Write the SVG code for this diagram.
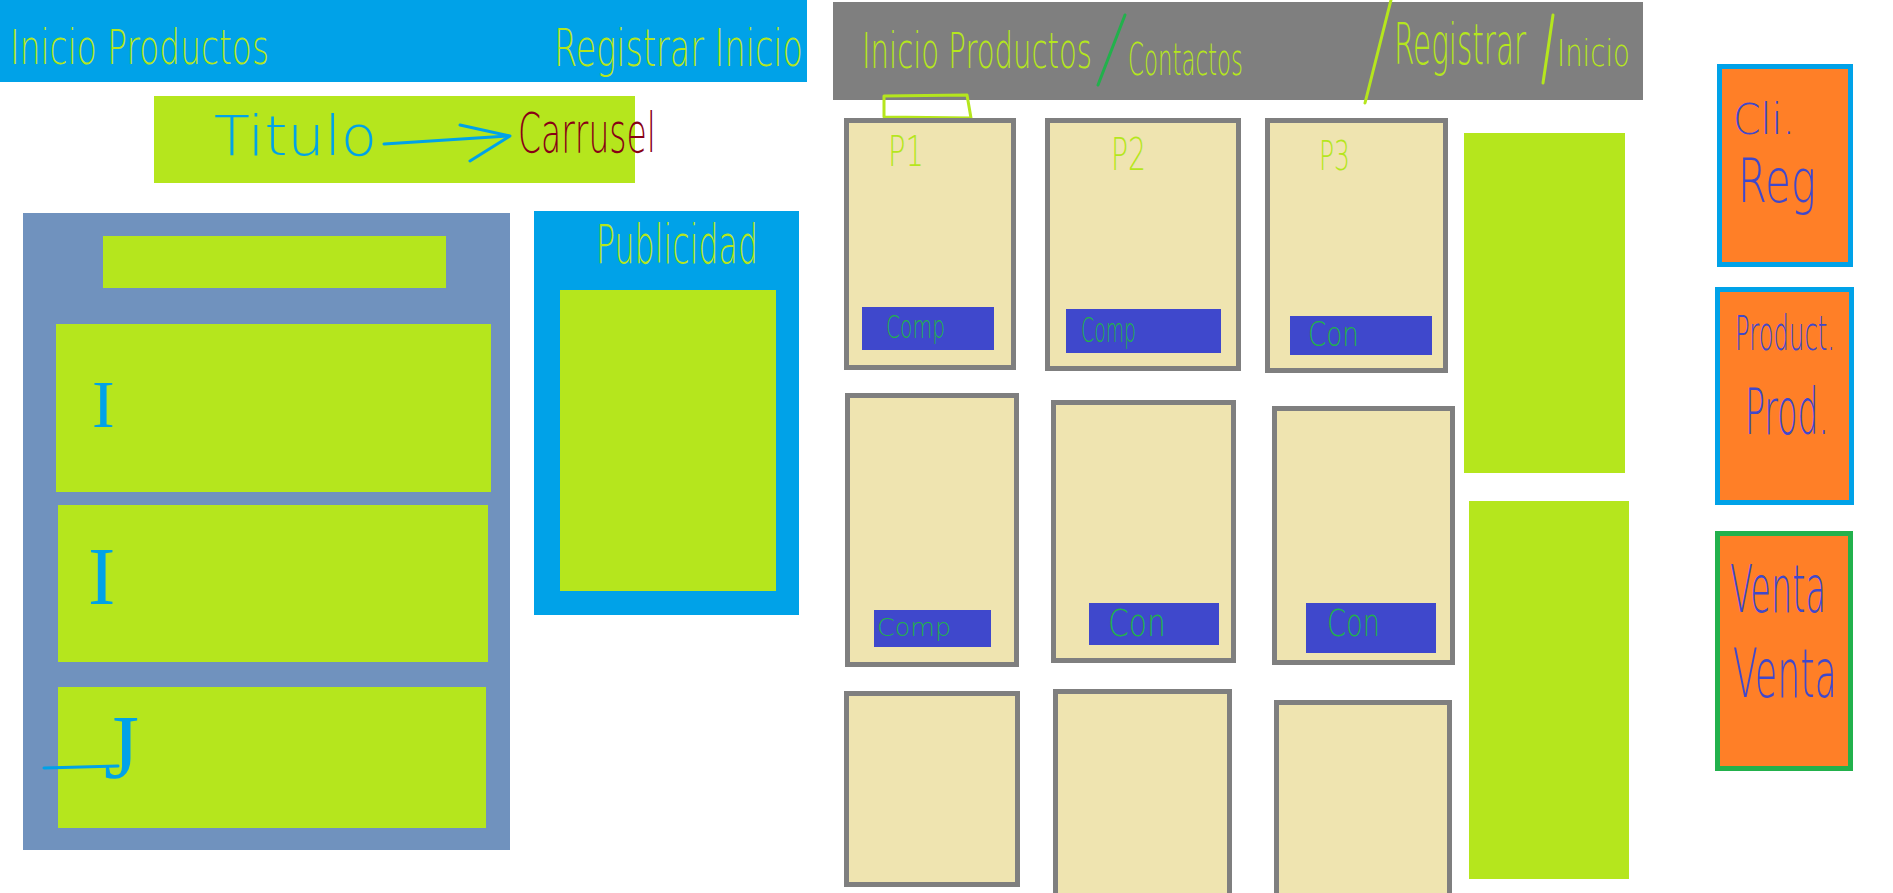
<svg xmlns="http://www.w3.org/2000/svg" width="1893" height="893" viewBox="0 0 1893 893">
<defs>
<style>
.hw{font-family:"DejaVu Sans","Liberation Sans",sans-serif;font-weight:200;}
.yg{fill:#B5E61D;}
.blu{fill:#00A2E8;}
.dred{fill:#880015;}
.grn{fill:#22B14C;}
.pur{fill:#3F48CC;}
.card{fill:#EFE4B0;stroke:#7F7F7F;stroke-width:5;}
.btn{fill:#3F48CC;}
.lime{fill:#B5E61D;}
.side{fill:#FF7F27;stroke-width:5;}
.ser{font-family:"Liberation Serif",serif;fill:#00A2E8;}
.pen{fill:none;stroke-width:3;stroke-linecap:round;stroke-linejoin:round;}
</style>
</defs>
<rect width="1893" height="893" fill="#FFFFFF"/>

<!-- LEFT WIREFRAME -->
<g id="left-header">
<rect x="0" y="0" width="807" height="82" fill="#00A2E8"/>
<text class="hw yg" transform="translate(10,64) scale(1,1.5)" font-size="32.5" textLength="259" lengthAdjust="spacingAndGlyphs">Inicio Productos</text>
<text class="hw yg" transform="translate(554,66) scale(1,1.55)" font-size="33" textLength="249" lengthAdjust="spacingAndGlyphs">Registrar Inicio</text>
</g>
<g id="titulo">
<rect x="154" y="96" width="481" height="87" fill="#B5E61D"/>
<text class="hw blu" transform="translate(214,155) scale(1,0.95)" font-size="58" textLength="163" lengthAdjust="spacingAndGlyphs">Titulo</text>
</g>
<g id="carrusel">
<text class="hw dred" transform="translate(518,152) scale(1,1.65)" font-size="33" textLength="138" lengthAdjust="spacingAndGlyphs">Carrusel</text>
</g>
<g id="lista">
<rect x="23" y="213" width="487" height="637" fill="#7092BE"/>
<rect class="lime" x="103" y="236" width="343" height="52"/>
<rect class="lime" x="56" y="324" width="435" height="168"/>
<rect class="lime" x="58" y="505" width="430" height="157"/>
<rect class="lime" x="58" y="687" width="428" height="141"/>
<text class="ser" x="92" y="427" font-size="68">I</text>
<text class="ser" x="88" y="604" font-size="82">I</text>
<text class="ser" x="104" y="778" font-size="90">J</text>
<line x1="44" y1="768" x2="118" y2="766" stroke="#00A2E8" stroke-width="3" stroke-linecap="round"/>
</g>
<g id="publicidad">
<rect x="534" y="211" width="265" height="404" fill="#00A2E8"/>
<rect class="lime" x="560" y="290" width="216" height="301"/>
<text class="hw yg" transform="translate(596,263) scale(1,1.7)" font-size="31.5" textLength="162" lengthAdjust="spacingAndGlyphs">Publicidad</text>
</g>

<!-- RIGHT WIREFRAME -->
<g id="right-header">
<rect x="833" y="2" width="810" height="98" fill="#7F7F7F"/>
<text class="hw yg" transform="translate(862,68) scale(1,1.7)" font-size="29" textLength="230" lengthAdjust="spacingAndGlyphs">Inicio Productos</text>
<line class="pen" x1="1125" y1="15" x2="1098" y2="85" stroke="#22B14C"/>
<text class="hw yg" transform="translate(1128,75) scale(1,2)" font-size="22.5" textLength="115" lengthAdjust="spacingAndGlyphs">Contactos</text>
<line class="pen" x1="1391" y1="0" x2="1365" y2="103" stroke="#B5E61D"/>
<text class="hw yg" transform="translate(1394,64) scale(1,2)" font-size="28.5" textLength="132" lengthAdjust="spacingAndGlyphs">Registrar</text>
<line class="pen" x1="1553" y1="15" x2="1543" y2="83" stroke="#B5E61D"/>
<text class="hw yg" transform="translate(1557,66) scale(1,1.4)" font-size="27" textLength="73" lengthAdjust="spacingAndGlyphs">Inicio</text>
<polygon class="pen" points="884,96 967,95 971,118 884,117" stroke="#B5E61D"/>
</g>
<g id="card-p1">
<rect class="card" x="846.5" y="120.5" width="167" height="247"/>
<text class="hw yg" transform="translate(888,166) scale(1,1.5)" font-size="29" textLength="36" lengthAdjust="spacingAndGlyphs">P1</text>
<rect class="btn" x="862" y="307" width="132" height="43"/>
<text class="hw grn" transform="translate(886,338) scale(1,1.6)" font-size="20" textLength="59" lengthAdjust="spacingAndGlyphs">Comp</text>
</g>
<g id="card-p2">
<rect class="card" x="1047.5" y="120.5" width="191" height="248"/>
<text class="hw yg" transform="translate(1111,170) scale(1,1.6)" font-size="28" textLength="35" lengthAdjust="spacingAndGlyphs">P2</text>
<rect class="btn" x="1066" y="309" width="155" height="44"/>
<text class="hw grn" transform="translate(1081,342) scale(1,1.8)" font-size="19" textLength="55" lengthAdjust="spacingAndGlyphs">Comp</text>
</g>
<g id="card-p3">
<rect class="card" x="1267.5" y="120.5" width="178" height="250"/>
<text class="hw yg" transform="translate(1319,170) scale(1,1.6)" font-size="25" textLength="31" lengthAdjust="spacingAndGlyphs">P3</text>
<rect class="btn" x="1290" y="316" width="142" height="39"/>
<text class="hw grn" transform="translate(1308,346) scale(1,1.3)" font-size="26" textLength="51" lengthAdjust="spacingAndGlyphs">Con</text>
</g>
<g id="card-4">
<rect class="card" x="847.5" y="395.5" width="169" height="269"/>
<rect class="btn" x="874" y="610" width="117" height="37"/>
<text class="hw grn" transform="translate(877,636) scale(1,1)" font-size="25" textLength="74" lengthAdjust="spacingAndGlyphs">Comp</text>
</g>
<g id="card-5">
<rect class="card" x="1053.5" y="402.5" width="180" height="258"/>
<rect class="btn" x="1089" y="603" width="130" height="42"/>
<text class="hw grn" transform="translate(1108,636) scale(1,1.3)" font-size="29" textLength="58" lengthAdjust="spacingAndGlyphs">Con</text>
</g>
<g id="card-6">
<rect class="card" x="1274.5" y="408.5" width="178" height="254"/>
<rect class="btn" x="1306" y="603" width="130" height="50"/>
<text class="hw grn" transform="translate(1327,636) scale(1,1.4)" font-size="27" textLength="53" lengthAdjust="spacingAndGlyphs">Con</text>
</g>
<g id="card-7">
<rect class="card" x="846.5" y="693.5" width="171" height="191"/>
</g>
<g id="card-8">
<rect class="card" x="1055.5" y="691.5" width="174" height="212"/>
</g>
<g id="card-9">
<rect class="card" x="1276.5" y="702.5" width="173" height="200"/>
</g>
<g id="side-bar-1">
<rect class="lime" x="1464" y="133" width="161" height="340"/>
</g>
<g id="side-bar-2">
<rect class="lime" x="1469" y="501" width="160" height="378"/>
</g>

<!-- RIGHT COLUMN -->
<g id="cli-reg">
<rect class="side" x="1719.5" y="66.5" width="131" height="198" stroke="#00A2E8"/>
<text class="hw pur" transform="translate(1733,134) scale(1,1.05)" font-size="40" textLength="62" lengthAdjust="spacingAndGlyphs">Cli.</text>
<text class="hw pur" transform="translate(1738,202) scale(1,1.5)" font-size="40" textLength="78" lengthAdjust="spacingAndGlyphs">Reg</text>
</g>
<g id="producto">
<rect class="side" x="1717.5" y="289.5" width="134" height="213" stroke="#00A2E8"/>
<text class="hw pur" transform="translate(1735,350) scale(1,2)" font-size="24" textLength="100" lengthAdjust="spacingAndGlyphs">Product.</text>
<text class="hw pur" transform="translate(1745,434) scale(1,2)" font-size="32" textLength="84" lengthAdjust="spacingAndGlyphs">Prod.</text>
</g>
<g id="venta">
<rect class="side" x="1717.5" y="533.5" width="133" height="235" stroke="#22B14C"/>
<text class="hw pur" transform="translate(1730,612) scale(1,2)" font-size="32.5" textLength="96" lengthAdjust="spacingAndGlyphs">Venta</text>
<text class="hw pur" transform="translate(1733,697) scale(1,1.95)" font-size="35" textLength="104" lengthAdjust="spacingAndGlyphs">Venta</text>
</g>

<g id="connectors">
<line class="pen" x1="384" y1="144" x2="508" y2="136" stroke="#00A2E8"/>
<polyline class="pen" points="460,125 510,136 470,161" stroke="#00A2E8"/>
</g>
</svg>
